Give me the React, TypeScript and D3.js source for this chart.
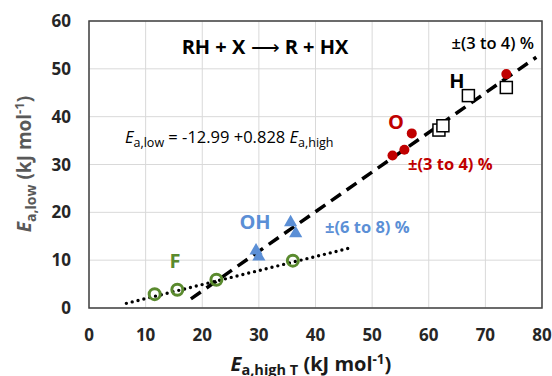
import React from "react";
import * as d3 from "d3";

const xTicks = [0, 10, 20, 30, 40, 50, 60, 70, 80];
const yTicks = [0, 10, 20, 30, 40, 50, 60];

const fX = [11.6, 15.6, 22.5, 36.0];
const fY = [2.9, 3.8, 5.9, 9.9];
const ohX = [29.5, 30.0, 35.6, 36.5];
const ohY = [12.0, 10.7, 17.9, 15.6];
const oX = [53.6, 55.7, 57.0, 73.7];
const oY = [31.9, 33.1, 36.5, 48.9];
const hX = [61.8, 62.5, 67.0, 73.7];
const hY = [37.2, 38.1, 44.4, 46.1];

const fitIntercept = -12.99;
const fitSlope = 0.828;
const fitRange = [18, 79];
const dotIntercept = -0.96;
const dotSlope = 0.293;
const dotRange = [6.6, 45.7];

const W = 552;
const H = 376;
const FONT = "'Open Sans', 'Liberation Sans', sans-serif";

export default function App() {
  const x = d3.scaleLinear().domain([0, 80]).range([89, 542]);
  const y = d3.scaleLinear().domain([0, 60]).range([308, 21]);

  const fitPath = d3
    .line<number>()
    .x((d) => x(d))
    .y((d) => y(fitIntercept + fitSlope * d))(fitRange);
  const dotPath = d3
    .line<number>()
    .x((d) => x(d))
    .y((d) => y(dotIntercept + dotSlope * d))(dotRange);

  const red = "#c00000";
  const blue = "#5b8fd6";
  const green = "#5a8a2e";
  const tri = d3.symbol().type(d3.symbolTriangle).size(75)() as string;

  return (
    <svg width={W} height={H} style={{ position: "absolute", left: 0, top: 0, background: "#fff" }}>
      <rect x={0} y={0} width={W} height={H} fill="#fff" />
      {xTicks.map((t) => (
        <line key={"gx" + t} x1={x(t)} x2={x(t)} y1={y(0)} y2={y(60)} stroke="#d9d9d9" strokeWidth={1} />
      ))}
      {yTicks.map((t) => (
        <line key={"gy" + t} x1={x(0)} x2={x(80)} y1={y(t)} y2={y(t)} stroke="#d9d9d9" strokeWidth={1} />
      ))}
      <rect x={x(0)} y={y(60)} width={x(80) - x(0)} height={y(0) - y(60)} fill="none" stroke="#404040" strokeWidth={1.5} />

      {yTicks.map((t) => (
        <text key={"ty" + t} x={71} y={y(t)} dy="0.36em" textAnchor="end" fontFamily={FONT} fontWeight="bold" fontSize={17} fill="#262626">
          {t}
        </text>
      ))}
      {xTicks.map((t) => (
        <text key={"tx" + t} x={x(t)} y={341} textAnchor="middle" fontFamily={FONT} fontWeight="bold" fontSize={17} fill="#262626">
          {t}
        </text>
      ))}

      <path d={dotPath as string} fill="none" stroke="#000" strokeWidth={3.4} strokeDasharray="0 6" strokeLinecap="round" />
      <path d={fitPath as string} fill="none" stroke="#000" strokeWidth={3.5} strokeDasharray="12 7" />

      {fX.map((v, i) => (
        <circle key={"f" + i} cx={x(v)} cy={y(fY[i])} r={5.5} fill="none" stroke={green} strokeWidth={3} />
      ))}
      {ohX.map((v, i) => (
        <path key={"oh" + i} d={tri} transform={`translate(${x(v)},${y(ohY[i])})`} fill={blue} />
      ))}
      {oX.map((v, i) => (
        <circle key={"o" + i} cx={x(v)} cy={y(oY[i])} r={5} fill={red} />
      ))}
      {hX.map((v, i) => (
        <rect key={"h" + i} x={x(v) - 6} y={y(hY[i]) - 6} width={12} height={12} fill="#fff" stroke="#000" strokeWidth={1.5} />
      ))}

      <text x={265} y={54} textAnchor="middle" fontFamily={FONT} fontWeight="bold" fontSize={20} fill="#000">
        RH + X <tspan fontWeight="normal">⟶</tspan> R + HX
      </text>
      <text x={125} y={143} fontFamily={FONT} fontSize={16.5} fill="#000">
        <tspan fontStyle="italic">E</tspan>
        <tspan fontSize={12.5} dy={4}>a,low</tspan>
        <tspan dy={-4}> = -12.99 +0.828 </tspan>
        <tspan fontStyle="italic">E</tspan>
        <tspan fontSize={12.5} dy={4}>a,high</tspan>
      </text>
      <text x={534} y={49} textAnchor="end" fontFamily={FONT} fontWeight="600" fontSize={16.5} fill="#000">
        ±(3 to 4) %
      </text>
      <text x={457} y={88} textAnchor="middle" fontFamily={FONT} fontWeight="bold" fontSize={20} fill="#000">
        H
      </text>
      <text x={396} y={129} textAnchor="middle" fontFamily={FONT} fontWeight="bold" fontSize={20} fill={red}>
        O
      </text>
      <text x={408} y={170} fontFamily={FONT} fontWeight="bold" fontSize={16.5} fill={red}>
        ±(3 to 4) %
      </text>
      <text x={255} y={229} textAnchor="middle" fontFamily={FONT} fontWeight="bold" fontSize={20} fill={blue}>
        OH
      </text>
      <text x={325} y={233} fontFamily={FONT} fontWeight="bold" fontSize={16.5} fill={blue}>
        ±(6 to 8) %
      </text>
      <text x={175} y={268} textAnchor="middle" fontFamily={FONT} fontWeight="bold" fontSize={20} fill={green}>
        F
      </text>

      <text transform="translate(31,164) rotate(-90)" textAnchor="middle" fontFamily={FONT} fontWeight="bold" fontSize={19} fill="#595959">
        <tspan fontStyle="italic">E</tspan>
        <tspan fontSize={14} dy={5}>a,low</tspan>
        <tspan dy={-5}> (kJ mol</tspan>
        <tspan fontSize={13} dy={-7}>-1</tspan>
        <tspan dy={7}>)</tspan>
      </text>
      <text x={311} y={371} textAnchor="middle" fontFamily={FONT} fontWeight="bold" fontSize={20} fill="#1a1a1a">
        <tspan fontStyle="italic">E</tspan>
        <tspan fontSize={14.5} dy={4}>a,high T</tspan>
        <tspan dy={-4}> (kJ mol</tspan>
        <tspan fontSize={13.5} dy={-7}>-1</tspan>
        <tspan dy={7}>)</tspan>
      </text>
    </svg>
  );
}
